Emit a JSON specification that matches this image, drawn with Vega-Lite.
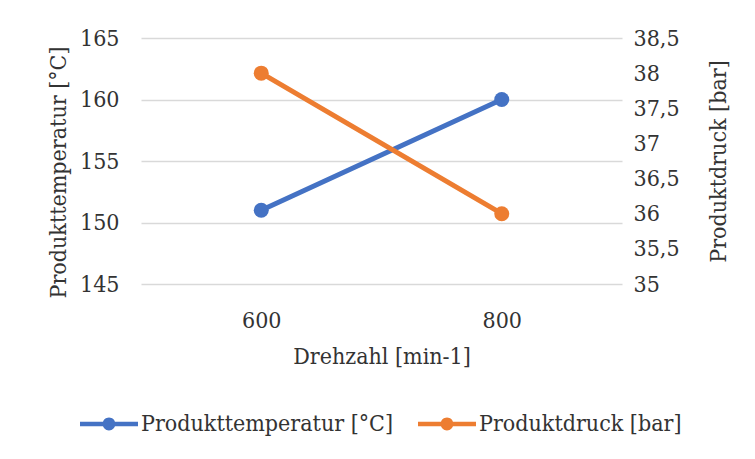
{
  "$schema": "https://vega.github.io/schema/vega-lite/v6.json",
  "autosize": {"type": "none"},
  "padding": {"left": 141, "top": 38, "right": 133, "bottom": 175},
  "width": 481,
  "height": 246,
  "background": "white",
  "config": {
    "view": {"stroke": null},
    "font": "DejaVu Serif Condensed",
    "axis": {
      "labelFont": "DejaVu Serif Condensed",
      "titleFont": "DejaVu Serif Condensed",
      "labelFontSize": 23,
      "titleFontSize": 23,
      "labelColor": "#333333",
      "titleColor": "#333333",
      "titleFontWeight": "normal",
      "domain": false,
      "ticks": false
    },
    "legend": {
      "labelFont": "DejaVu Serif Condensed",
      "labelFontSize": 23,
      "labelColor": "#333333",
      "labelLimit": 400
    }
  },
  "data": {
    "values": [
      {"drehzahl": "600", "temperatur": 151, "druck": 38},
      {"drehzahl": "800", "temperatur": 160, "druck": 36}
    ]
  },
  "encoding": {
    "x": {
      "field": "drehzahl",
      "type": "ordinal",
      "scale": {"type": "point", "padding": 0.5},
      "axis": {
        "title": "Drehzahl [min-1]",
        "labelAngle": 0,
        "labelPadding": 25,
        "titleY": 72,
        "titleBaseline": "middle",
        "grid": false
      }
    },
    "color": {
      "scale": {
        "domain": ["Produkttemperatur [°C]", "Produktdruck [bar]"],
        "range": ["#4472C4", "#ED7D31"]
      }
    }
  },
  "layer": [
    {
      "encoding": {
        "y": {
          "field": "temperatur",
          "type": "quantitative",
          "scale": {"domain": [145, 165], "nice": false, "zero": false},
          "axis": {
            "orient": "left",
            "title": "Produkttemperatur [°C]",
            "values": [145, 150, 155, 160, 165],
            "labelPadding": 22,
            "grid": true,
            "gridColor": "#d9d9d9",
            "gridWidth": 1.5,
            "titleX": -83,
            "titleY": 134,
            "titleAngle": 270,
            "titleBaseline": "middle",
            "titleAlign": "center"
          }
        }
      },
      "layer": [
        {
          "mark": {"type": "line", "strokeWidth": 5, "strokeCap": "round", "color": "#4472C4"}
        },
        {
          "mark": {"type": "point", "shape": "circle", "filled": true, "size": 225, "opacity": 1},
          "encoding": {
            "color": {
              "datum": "Produkttemperatur [°C]",
              "legend": {
                "orient": "none",
                "direction": "horizontal",
                "legendX": -61,
                "legendY": 357,
                "title": null,
                "symbolType": "M-1,-0.08H1V0.08H-1Z M0.22,0A0.22,0.22,0,1,1,-0.22,0A0.22,0.22,0,1,1,0.22,0Z",
                "symbolSize": 3364,
                "symbolStrokeWidth": 0,
                "labelOffset": 3,
                "columnPadding": 24
              }
            }
          }
        }
      ]
    },
    {
      "encoding": {
        "y": {
          "field": "druck",
          "type": "quantitative",
          "scale": {"domain": [35, 38.5], "nice": false, "zero": false},
          "axis": {
            "orient": "right",
            "title": "Produktdruck [bar]",
            "values": [35, 35.5, 36, 36.5, 37, 37.5, 38, 38.5],
            "labelExpr": "replace(format(datum.value, '.1~f'), '.', ',')",
            "labelPadding": 11,
            "grid": false,
            "titleX": 96,
            "titleY": 123,
            "titleAngle": 270,
            "titleBaseline": "middle",
            "titleAlign": "center"
          }
        }
      },
      "layer": [
        {
          "mark": {"type": "line", "strokeWidth": 5, "strokeCap": "round", "color": "#ED7D31"}
        },
        {
          "mark": {"type": "point", "shape": "circle", "filled": true, "size": 225, "opacity": 1},
          "encoding": {
            "color": {"datum": "Produktdruck [bar]"}
          }
        }
      ]
    }
  ],
  "resolve": {"scale": {"y": "independent"}}
}
